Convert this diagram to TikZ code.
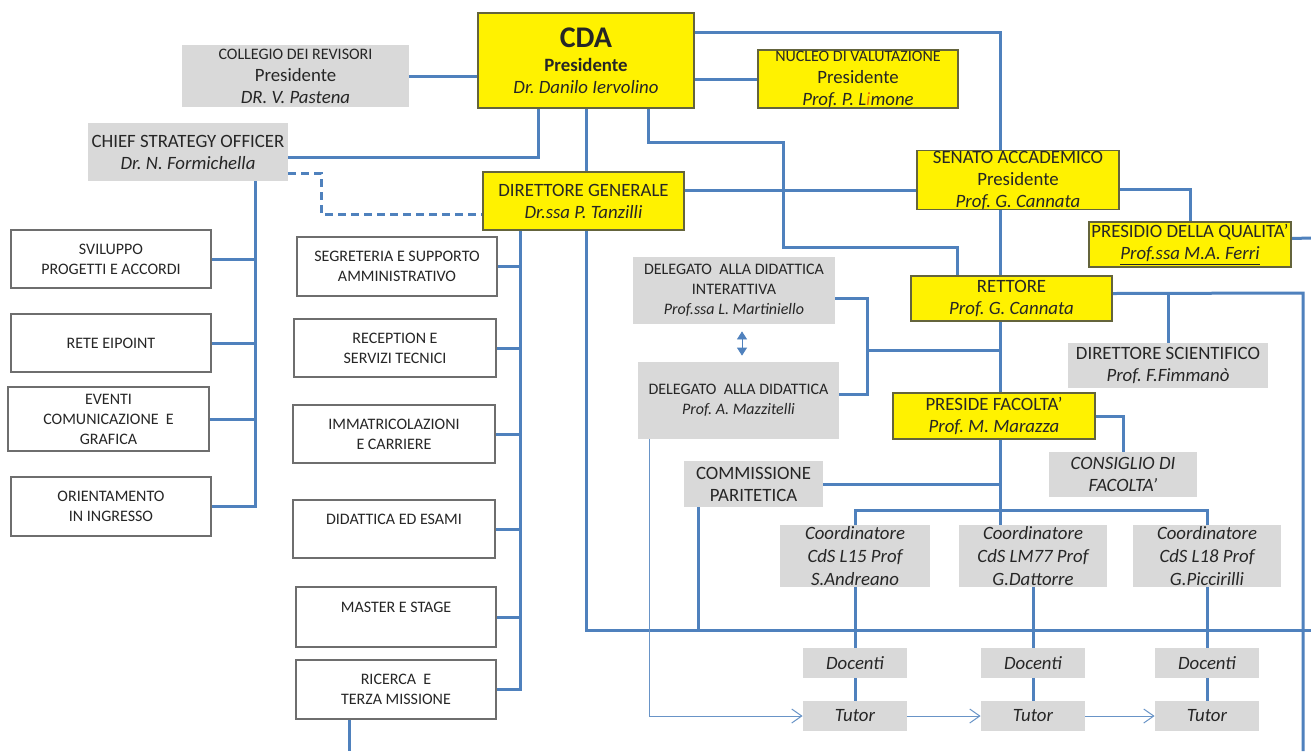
\documentclass[tikz,border=0pt]{standalone}
\usepackage{fontspec}
\setmainfont{Carlito}
\usetikzlibrary{calc,arrows.meta,backgrounds}
\definecolor{lblue}{RGB}{79,129,189}
\definecolor{gfill}{RGB}{217,217,217}
\definecolor{ybord}{RGB}{100,100,60}
\definecolor{wbord}{RGB}{110,110,110}
\definecolor{txt}{RGB}{38,38,38}
\definecolor{limi}{RGB}{228,108,10}
\newcommand{\tsmall}{\fontsize{8}{10}\selectfont}
\newcommand{\tmid}{\fontsize{9.4}{11}\selectfont}
\frenchspacing

\begin{document}
\begin{tikzpicture}[x=0.5pt,y=-0.5pt,
    wh/.style 2 args={minimum width=#1*0.5pt,minimum height=#2*0.5pt},
    ybox/.style={draw=ybord,fill=yellow,line width=0.6pt,inner sep=0pt,align=center,text=txt,font=\tmid},
    gbox/.style={fill=gfill,inner sep=0pt,align=center,text=txt,font=\tmid},
    wbox/.style={draw=wbord,fill=white,line width=0.6pt,inner sep=0pt,align=center,text=txt,font=\tsmall},
    link/.style={draw=lblue,line width=1.5pt},
    flow/.style={draw=lblue!85,line width=0.5pt,-{Straight Barb[length=5pt,width=7pt]}}]
    \useasboundingbox (0,0) rectangle (1311,751);

    % vertici
    \node[gbox,wh={227}{62}] (collegio) at (295.5,76) {{\tsmall COLLEGIO DEI REVISORI}\\Presidente\\\textit{DR. V. Pastena}};
    \node[ybox,wh={216}{95}] (cda) at (586,60.5) {{\fontsize{15}{18}\selectfont\bfseries CDA}\\[1pt]\textbf{Presidente}\\\textit{Dr. Danilo Iervolino}};
    \node[ybox,wh={200}{58}] (nucleo) at (858,79) {{\tsmall NUCLEO DI VALUTAZIONE}\\Presidente\\\textit{Prof. P. L\textcolor{limi}{i}mone}};
    \node[gbox,wh={200}{58}] (cso) at (188,152) {CHIEF STRATEGY OFFICER\\\textit{Dr. N. Formichella}};
    \node[ybox,wh={201}{58}] (dg) at (583.5,201) {DIRETTORE GENERALE\\\textit{Dr.ssa P. Tanzilli}};
    \node[ybox,wh={202}{58}] (senato) at (1018,180) {SENATO ACCADEMICO\\Presidente\\\textit{Prof. G. Cannata}};
    \node[ybox,wh={202}{45}] (presidio) at (1190,244.5) {PRESIDIO DELLA QUALITA’\\\textit{\underline{Prof.ssa M.A. Ferri}}};
    \node[ybox,wh={201}{45}] (rettore) at (1011.5,298.5) {RETTORE\\\textit{Prof. G. Cannata}};
    \node[gbox,wh={200}{45}] (dirsci) at (1168,365.5) {DIRETTORE SCIENTIFICO\\\textit{Prof. F.Fimmanò}};
    \node[ybox,wh={202}{46}] (preside) at (994,416) {PRESIDE FACOLTA’\\\textit{Prof. M. Marazza}};
    \node[gbox,wh={148}{45},font=\tmid\itshape] (consiglio) at (1123,474.5) {CONSIGLIO DI\\FACOLTA’};

    % delegati e commissione
    \node[gbox,wh={202}{67},font=\tsmall] (delint) at (734,290.5) {DELEGATO\ \ ALLA DIDATTICA\\INTERATTIVA\\\textit{Prof.ssa L. Martiniello}};
    \node[gbox,wh={201}{77},font=\tsmall] (deldid) at (738.5,400.5) {DELEGATO\ \ ALLA DIDATTICA\\\textit{Prof. A. Mazzitelli}};
    \node[gbox,wh={139}{46}] (comm) at (753.5,484) {COMMISSIONE\\PARITETICA};

    % corsi di studio
    \node[gbox,wh={150}{62},font=\fontsize{9.4}{11.7}\selectfont\itshape] (coordA) at (855,556) {Coordinatore\\CdS L15 Prof\\S.Andreano};
    \node[gbox,wh={148}{62},font=\fontsize{9.4}{11.7}\selectfont\itshape] (coordB) at (1033,556) {Coordinatore\\CdS LM77 Prof\\G.Dattorre};
    \node[gbox,wh={148}{62},font=\fontsize{9.4}{11.7}\selectfont\itshape] (coordC) at (1207,556) {Coordinatore\\CdS L18 Prof\\G.Piccirilli};
    \foreach \k/\xc in {A/855,B/1033,C/1207}{
        \node[gbox,wh={104}{30},font=\tmid\itshape] (doc\k) at (\xc,663) {Docenti};
        \node[gbox,wh={104}{30},font=\tmid\itshape] (tut\k) at (\xc,716) {Tutor};
    }

    % uffici
    \node[wbox,wh={200}{58}] (svil) at (111,259) {SVILUPPO\\PROGETTI E ACCORDI};
    \node[wbox,wh={200}{58}] (rete) at (111,343) {RETE EIPOINT};
    \node[wbox,wh={201}{64}] (eventi) at (108.5,419) {EVENTI\\COMUNICAZIONE\ \ E\\GRAFICA};
    \node[wbox,wh={200}{59}] (orient) at (111,506.5) {ORIENTAMENTO\\IN INGRESSO};
    \node[wbox,wh={200}{59}] (segr) at (397,266.5) {SEGRETERIA E SUPPORTO\\AMMINISTRATIVO};
    \node[wbox,wh={202}{58}] (recep) at (395,348) {RECEPTION E\\SERVIZI TECNICI};
    \node[wbox,wh={202}{58}] (immat) at (394,434) {IMMATRICOLAZIONI\\E CARRIERE};
    \node[wbox,wh={202}{58}] (didat) at (394,529) {DIDATTICA ED ESAMI\\\mbox{}};
    \node[wbox,wh={200}{60}] (master) at (396,617) {MASTER\ E STAGE\\\mbox{}};
    \node[wbox,wh={200}{59}] (ricerca) at (396,689.5) {RICERCA\ \ E\\TERZA MISSIONE};

    \coordinate (spine) at (1000,0);
    \coordinate (lspine) at (255,0);
    \coordinate (mspine) at (520,0);
    \coordinate (hbar) at (588,630);
    \coordinate (hbarend) at (1311,630);
    \coordinate (rline) at (1303,293);
    \coordinate (rbottom) at (1303,751);
    \coordinate (pqout) at (1311,238);
    \coordinate (cbar) at (1000,510);
    \coordinate (ricout) at (349,751);
    \coordinate (commdrop) at (698,630);
    \coordinate (dlink) at (867,350);

    \begin{scope}[on background layer]
        \fill[white] (0,0) rectangle (1311,751);
        \draw[link] (collegio.east) -- (collegio.east -| cda.west);
        \draw[link] (cda.east |- nucleo.west) -- (nucleo.west);
        \draw[link] ($(cda.north east)+(0,20)$) -| (senato.north -| spine);
        \draw[link] (senato.south -| spine) -- (rettore.north -| spine);
        \draw[link] (rettore.south -| spine) -- (preside.north -| spine);
        \draw[link] (preside.south -| spine) -- (coordB.north -| spine);
        \draw[link] ($(cda.south west)+(61,0)$) |- ($(cso.east)+(0,5)$);
        \draw[link] (cda.south) -- (cda.south |- hbar) -- (hbarend);
        \draw[link] ($(cda.south west)+(171,0)$) |- (783,142) |- ($(rettore.north west)+(47,-28)$) -- ($(rettore.north west)+(47,0)$);
        \draw[link] ($(dg.east)+(0,-11)$) -- ($(senato.west)+(0,10)$);
        \draw[link] ($(senato.east)+(0,9)$) -| (presidio.north);
        \draw[link] ($(presidio.east)+(0,-6)$) -- (pqout);
        \draw[link] ($(rettore.east)+(0,-5)$) -- (rline) -- (rbottom);
        \draw[link] (dirsci.north) -- (dirsci.north |- rline);
        \draw[link] (preside.east) -| (consiglio.north);
        \draw[link] (coordA.north) |- (cbar) -| (coordC.north);
        \draw[link] (comm.east) -- (comm.east -| spine);
        \draw[link] (commdrop |- comm.south) -- (commdrop);
        \draw[link] ($(delint.east)+(0,8)$) -| (dlink) |- ($(deldid.east)+(0,-6)$);
        \draw[link] (dlink) -- (dlink -| spine);
        \draw[lblue,line width=0.4pt,{Triangle[length=4pt,width=5pt]}-{Triangle[length=4pt,width=5pt]}] ([xshift=4pt,yshift=-3.5pt]delint.south) -- ([xshift=1.75pt,yshift=3pt]deldid.north);
        % uffici
        \draw[link] (cso.south -| lspine) |- (orient.east);
        \foreach \b in {svil,rete,eventi} \draw[link] (\b.east) -- (\b.east -| lspine);
        \draw[link] (dg.south -| mspine) |- (ricerca.east);
        \foreach \b in {segr,recep,immat,didat,master} \draw[link] (\b.east) -- (\b.east -| mspine);
        \draw[link] (ricout |- ricerca.south) -- (ricout);
        \draw[link,dash pattern=on 4pt off 2.5pt] ($(cso.east)+(0,21)$) -- (321,173) |- ($(dg.west)+(0,13)$);
        % docenti e tutor
        \foreach \k in {A,B,C}{
            \draw[link] (coord\k.south) -- (doc\k.north);
            \draw[link] (doc\k.south) -- (tut\k.north);
        }
        \draw[flow] (tutA.east) -- (tutB.west);
        \draw[flow] (tutB.east) -- (tutC.west);
        \draw[flow] (deldid.south -| 649,0) |- (tutA.west);
    \end{scope}
\end{tikzpicture}
\end{document}
